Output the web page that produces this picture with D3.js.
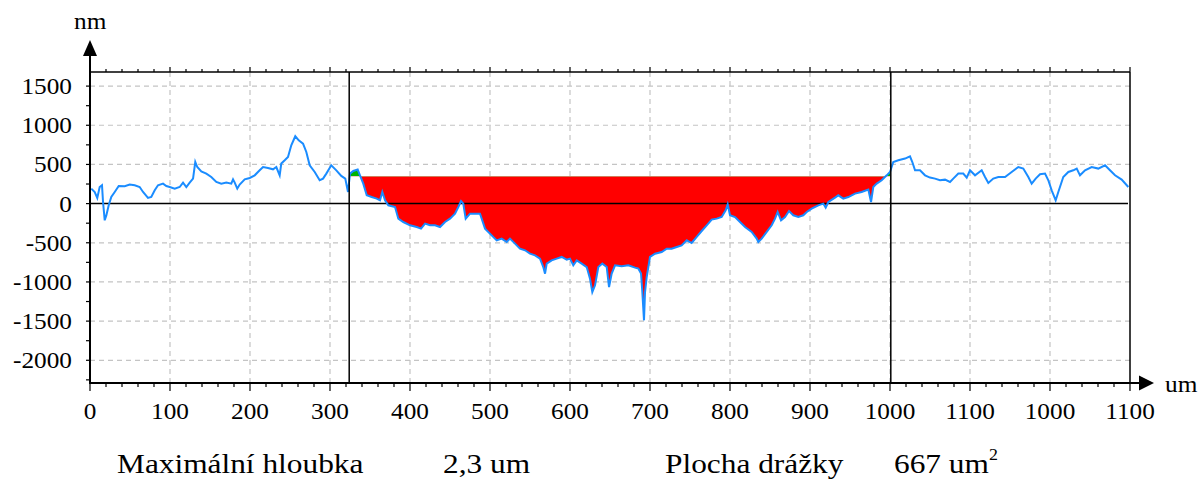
<!DOCTYPE html>
<html>
<head>
<meta charset="utf-8">
<title>profil drazky</title>
<script src="https://d3js.org/d3.v7.min.js"></script>
<style>
  body { margin: 0; background: #fff; }
  text { font-family: "Liberation Serif", "DejaVu Serif", serif; fill: #000; }
</style>
</head>
<body>
<svg class="chart"></svg>
<script>
// profile: position (um) and height (nm)
var profX = [1.6,5.9,9.1,12.1,15,16.3,18.4,20.4,23.4,26.6,30.9,35.9,43.4,49.6,55.9,62.1,66.3,72.5,76.6,80.9,85,91.3,95.4,99.6,105.9,112.1,116.3,120.4,124.6,128.8,131.6,134.1,139.1,145.4,151.6,157.9,164.1,170.4,176.6,178.8,180.9,184.1,187.1,193.4,199.6,205.9,212.1,216.3,222.5,228.8,232.9,237.1,239.1,243.4,247.5,251.6,256.6,260.9,266.3,270.4,274.6,280.9,287.1,291.3,295.4,301.6,307.9,314.1,319.1,322.5,
  325,329.1,334.6,337.5,341.6,345.9,352.1,358.4,362.5,365.4,368.8,372.9,381.3,385.4,391.6,400,408.4,413.8,418.8,425,431.3,437.5,443.8,450,456.3,460.4,463.8,466.6,469.6,475,481.3,487.5,489.6,493.8,502.1,508.4,514.6,520.9,525,531.3,537.5,543.8,550,556.3,562.5,566.6,568.8,570.9,577.1,583.4,589.6,595.9,600,604.1,608.4,614.6,620.9,625,627.9,631.3,635.4,640.4,645.9,
  648.8,652.1,656.3,664.6,672.9,681.3,685.4,688.8,690.4,692.5,693.8,695.9,700,706.3,714.6,720.9,727.1,733.4,739.6,745.9,752.1,758.4,764.6,770.9,777.1,783.4,789.6,794.6,797.1,800,806.3,812.5,818.8,827.1,833.4,835.4,839.6,845.9,852.1,856.3,859.6,863.8,868.8,873.8,879.1,885.4,891.6,895.9,902.1,910.4,916.6,919.6,923,931.3,935.4,941.6,947.9,956.3,964.6,972.9,
  976.3,979.1,983.4,989.6,995.9,1000,1004.1,1010.4,1018.8,1025,1027.9,1031.3,1037.5,1043.8,1050,1056.3,1062.5,1068.8,1075,1079.1,1085.4,1091.6,1095.9,1100,1106.3,1114.6,1118.8,1122.9,1129.1,1135.4,1143.8,1152.1,1160.4,1166.6,1172.9,1177.1,1182.1,1187.5,1193.8,1197.9,1202.1,1207.1,1210.4,1216.6,1222.9,1229.1,1233.4,1237.5,1243.8,1252.1,1260.4,1268.8,1275,1281.3,1289.6,1297.9];
var profY = [191,148,72,212,234,20,-213,-150,-22,84,148,225,221,243,234,212,148,72,84,170,234,255,225,212,191,212,268,212,268,319,531,467,412,383,340,276,255,268,255,310,268,191,243,310,327,361,425,467,455,438,467,361,511,553,595,745,860,808,766,659,489,404,298,319,383,489,425,353,319,148,
  383,416,434,361,255,106,84,64,42,148,42,-22,-43,-192,-235,-277,-299,-319,-255,-277,-277,-299,-235,-192,-128,-43,33,0,-192,-128,-128,-128,-192,-319,-405,-469,-447,-490,-447,-511,-575,-596,-639,-660,-702,-810,-894,-766,-724,-702,-681,-715,-702,-788,-724,-766,-810,-958,-1129,-1043,-810,-766,-810,
  -1065,-894,-788,-801,-788,-817,-830,-894,-1129,-1490,-1129,-937,-681,-639,-618,-575,-575,-554,-533,-469,-503,-426,-350,-277,-204,-192,-171,-86,-9,-149,-171,-235,-299,-362,-447,-490,-447,-362,-277,-192,-107,-213,-171,-94,-149,-171,-149,-107,-64,-22,0,-51,20,77,106,64,84,128,148,179,
  20,212,255,298,361,404,531,553,575,604,531,425,425,361,332,319,298,306,276,319,383,383,332,425,361,425,340,263,319,340,340,404,467,447,340,255,319,374,383,298,170,42,148,340,404,425,447,361,425,467,447,489,425,361,306,212];

var xTickLabels = ["0","100","200","300","400","500","600","700","800","900","1000","1100","1000","1100"];
var yTickValues = [-2000,-1500,-1000,-500,0,500,1000,1500];
var cursorX = [324, 1001];      // the two vertical marker lines
var groove = {from: 325, to: 1000, level: 349};
var resultLabels = ["Maximální hloubka", "2,3 um", "Plocha drážky", "667 um"];

var svgWidth = 1203, svgHeight = 480;
var pLeft = 90, pRight = 1130, pTop = 72, pBottom = 383;

var svg = d3.select(".chart").attr("width", svgWidth).attr("height", svgHeight);

var x = d3.scaleLinear().domain([0, 1300]).range([pLeft, pRight]);
var y = d3.scaleLinear().domain([-2290, 1680]).range([pBottom, pTop]);

var data = profX.map(function (d, i) { return {x: d, y: profY[i]}; });

// the text in the picture is a little wider than the font, so stretch it
function label(g, tx, ty, sx, size, anchor) {
    return g.append("text")
        .attr("transform", "translate(" + tx + "," + ty + ") scale(" + sx + ",1)")
        .attr("font-size", size)
        .attr("text-anchor", anchor || "start");
}

// grid
var grid = svg.append("g").attr("stroke", "#c4c4c4").attr("stroke-width", 1.2).attr("stroke-dasharray", "5,4");
grid.selectAll(".gx").data(d3.range(1, 13)).enter().append("line")
    .attr("x1", d => x(d * 100)).attr("x2", d => x(d * 100))
    .attr("y1", pTop).attr("y2", pBottom);
grid.selectAll(".gy").data(yTickValues.filter(d => d !== 0)).enter().append("line")
    .attr("x1", pLeft).attr("x2", pRight)
    .attr("y1", d => y(d)).attr("y2", d => y(d));

// groove fill: red below level, green above
var defs = svg.append("defs");
defs.append("clipPath").attr("id", "below").append("rect")
    .attr("x", x(groove.from)).attr("width", x(groove.to) - x(groove.from))
    .attr("y", y(groove.level)).attr("height", pBottom - y(groove.level));
defs.append("clipPath").attr("id", "above").append("rect")
    .attr("x", x(groove.from)).attr("width", x(groove.to) - x(groove.from))
    .attr("y", pTop).attr("height", y(groove.level) - pTop);

var fillArea = d3.area().x(d => x(d.x)).y0(y(groove.level)).y1(d => y(d.y));
svg.append("path").datum(data).attr("d", fillArea).attr("fill", "#ff0000").attr("clip-path", "url(#below)");
svg.append("path").datum(data).attr("d", fillArea).attr("fill", "#00b400").attr("clip-path", "url(#above)");

// zero line
svg.append("line").attr("x1", pLeft).attr("x2", pRight - 2).attr("y1", y(0)).attr("y2", y(0))
    .attr("stroke", "#000").attr("stroke-width", 1.5);

// profile line
svg.append("path").datum(data)
    .attr("d", d3.line().x(d => x(d.x)).y(d => y(d.y)))
    .attr("fill", "none").attr("stroke", "#1a8cff").attr("stroke-width", 2)
    .attr("stroke-linejoin", "miter");

// marker lines
svg.selectAll(".cursor").data(cursorX).enter().append("line")
    .attr("x1", d => x(d)).attr("x2", d => x(d)).attr("y1", pTop).attr("y2", pBottom)
    .attr("stroke", "#000").attr("stroke-width", 1.5);

// frame
svg.append("line").attr("x1", pLeft).attr("x2", pRight).attr("y1", pTop).attr("y2", pTop).attr("stroke", "#000").attr("stroke-width", 1.5);
svg.append("line").attr("x1", pRight).attr("x2", pRight).attr("y1", pTop).attr("y2", pBottom).attr("stroke", "#000").attr("stroke-width", 1.5);
svg.append("line").attr("x1", pLeft).attr("x2", 1142).attr("y1", pBottom).attr("y2", pBottom).attr("stroke", "#000").attr("stroke-width", 2);
svg.append("line").attr("x1", pLeft).attr("x2", pLeft).attr("y1", pBottom + 1).attr("y2", 52).attr("stroke", "#000").attr("stroke-width", 2);
svg.append("path").attr("d", "M" + pLeft + ",40 L" + (pLeft - 7) + ",56 L" + (pLeft + 7) + ",56 Z").attr("fill", "#000");
svg.append("path").attr("d", "M1154," + pBottom + " L1139," + (pBottom - 7.5) + " L1139," + (pBottom + 7.5) + " Z").attr("fill", "#000");

// ticks
var xMinor = d3.range(0, 1301, 20);
svg.selectAll(".tt").data(xMinor).enter().append("line")
    .attr("x1", d => x(d)).attr("x2", d => x(d))
    .attr("y1", pTop).attr("y2", d => pTop - (d % 100 === 0 ? 5 : 3))
    .attr("stroke", "#000").attr("stroke-width", 1.2);
svg.selectAll(".tb").data(xMinor).enter().append("line")
    .attr("x1", d => x(d)).attr("x2", d => x(d))
    .attr("y1", pBottom).attr("y2", d => pBottom + (d % 100 === 0 ? 8 : 4))
    .attr("stroke", "#000").attr("stroke-width", 1.2);
svg.selectAll(".tl").data(d3.range(-2250, 1680, 250)).enter().append("line")
    .attr("x1", pLeft).attr("x2", pLeft - 4)
    .attr("y1", d => y(d)).attr("y2", d => y(d))
    .attr("stroke", "#000").attr("stroke-width", 1.2);

// tick labels
xTickLabels.forEach(function (t, i) {
    label(svg, x(i * 100), 419, 1.1, 23, "middle").text(t);
});
yTickValues.forEach(function (v) {
    label(svg, 72, y(v) + 8, 1.1, 23, "end").text(v);
});

label(svg, 74, 29, 1.1, 23).text("nm");
label(svg, 1165, 392, 1.1, 23).text("um");

// results under the chart
var resX = [117, 443, 665, 894];
resultLabels.forEach(function (t, i) {
    label(svg, resX[i], 473, 1.12, 28).text(t);
});
label(svg, 989, 460, 1.12, 16).text("2");
</script>
</body>
</html>
